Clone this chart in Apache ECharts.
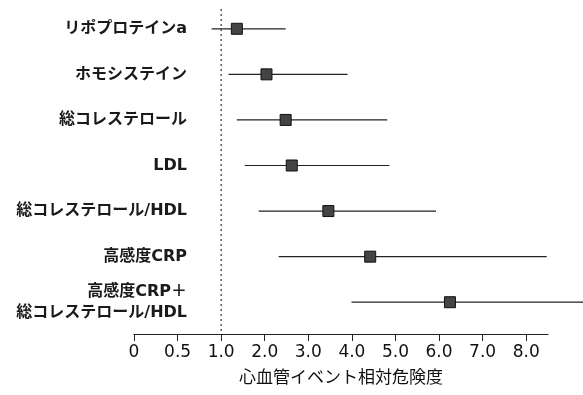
<!DOCTYPE html>
<html>
<head>
<meta charset="utf-8">
<script src="https://cdn.jsdelivr.net/npm/echarts@6/dist/echarts.min.js"></script>
<style>
  html, body { margin: 0; padding: 0; background: #fff; }
  #chart { width: 583px; height: 395px; }
</style>
</head>
<body>
<div id="chart"></div>
<script>
const categories = [
  "リポプロテインa",
  "ホモシステイン",
  "総コレステロール",
  "LDL",
  "総コレステロール/HDL",
  "高感度CRP",
  "高感度CRP＋\n総コレステロール/HDL",
];
// relative risk: point estimate and interval ends
const rrValue = [1.36, 2.04, 2.48, 2.62, 3.46, 4.42, 6.25];
const rrLow = [0.89, 1.17, 1.36, 1.54, 1.86, 2.32, 3.99];
const rrHigh = [2.48, 3.9, 4.81, 4.86, 5.93, 8.47, 9.4];
const tickLabels = ["0", "0.5", "1.0", "2.0", "3.0", "4.0", "5.0", "6.0", "7.0", "8.0"];
const refValue = 1.0;

// axis is broken: 0-1 in half steps, then whole steps
const toAxis = (v) => (v <= 1 ? v * 2 : v + 1);

const AXIS_OFFSET = 9;
const font = '"DejaVu Sans", "Noto Sans CJK JP", sans-serif';

const chart = echarts.init(document.getElementById("chart"));
chart.setOption({
  animation: false,
  grid: { left: 134, right: 35, top: 6, bottom: 70 },
  xAxis: {
    type: "value",
    min: 0,
    max: 9.5,
    interval: 1,
    offset: AXIS_OFFSET,
    name: "心血管イベント相対危険度",
    nameLocation: "middle",
    nameGap: 34,
    nameTextStyle: { fontSize: 17, color: "#111", fontFamily: '"Noto Sans CJK JP", sans-serif' },
    axisLine: { show: true, lineStyle: { color: "#222", width: 1.2 } },
    axisTick: { show: true, length: 7, lineStyle: { color: "#222" } },
    axisLabel: {
      margin: 10,
      fontSize: 17,
      color: "#111",
      fontFamily: "DejaVu Sans",
      showMaxLabel: false,
      formatter: (v) => tickLabels[v] ?? "",
    },
    splitLine: { show: false },
  },
  yAxis: {
    type: "category",
    inverse: true,
    data: categories,
    axisLine: { show: false },
    axisTick: { show: false },
    axisLabel: {
      margin: -53,
      fontSize: 16,
      lineHeight: 21,
      color: "#1a1a1a",
      fontWeight: "bold",
      fontFamily: font,
      align: "right",
    },
  },
  series: [
    {
      type: "custom",
      clip: false,
      data: categories.map((c, i) => [toAxis(rrLow[i]), toAxis(rrHigh[i]), toAxis(rrValue[i]), i]),
      encode: { x: [0, 1, 2], y: 3 },
      renderItem: (params, api) => {
        const lo = api.coord([api.value(0), api.value(3)]);
        const hi = api.coord([api.value(1), api.value(3)]);
        const mid = api.coord([api.value(2), api.value(3)]);
        const s = 11;
        return {
          type: "group",
          children: [
            {
              type: "line",
              shape: { x1: lo[0], y1: lo[1], x2: hi[0], y2: hi[1] },
              style: { stroke: "#222", lineWidth: 1.2 },
            },
            {
              type: "rect",
              shape: { x: mid[0] - s / 2, y: mid[1] - s / 2, width: s, height: s },
              style: { fill: "#444", stroke: "#111", lineWidth: 1 },
            },
          ],
        };
      },
    },
    {
      // dotted reference line at RR = 1.0, running down to the axis line
      type: "custom",
      clip: false,
      data: [[toAxis(refValue)]],
      encode: { x: 0 },
      renderItem: (params, api) => {
        const x = api.coord([api.value(0), 0])[0];
        const cs = params.coordSys;
        return {
          type: "line",
          shape: { x1: x, y1: cs.y + 3, x2: x, y2: cs.y + cs.height + AXIS_OFFSET },
          style: { stroke: "#333", lineWidth: 1.2, lineDash: [2, 3] },
        };
      },
    },
  ],
});
</script>
</body>
</html>
